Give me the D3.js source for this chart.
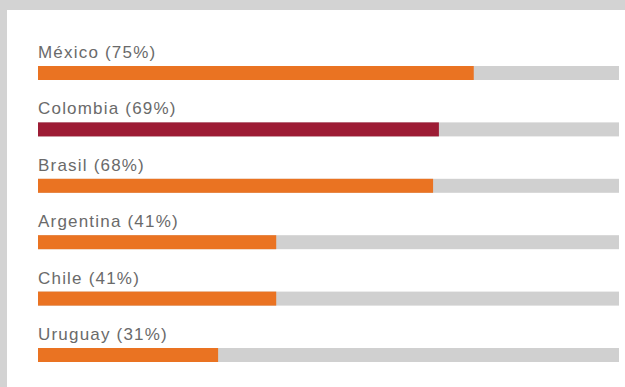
<!DOCTYPE html>
<html><head><meta charset="utf-8">
<script src="https://cdn.jsdelivr.net/npm/d3@7"></script>
<style>html,body{margin:0;padding:0;background:#d3d3d3;}svg{display:block;}</style>
</head><body>
<script>
const categories = ["México", "Colombia", "Brasil", "Argentina", "Chile", "Uruguay"];
const values = [75, 69, 68, 41, 41, 31];
const highlight = ["Colombia"];

const W = 625, H = 387;
const svg = d3.select("body").append("svg").attr("width", W).attr("height", H);
svg.append("rect").attr("width", W).attr("height", H).attr("fill", "#d3d3d3");
svg.append("rect").attr("x", 7).attr("y", 10).attr("width", W - 7).attr("height", H - 10).attr("fill", "#ffffff");

const x = d3.scaleLinear().domain([0, 100]).range([38, 619]);
const y = d3.scaleBand().domain(categories).range([66, 66 + 6 * 56.4]).paddingInner(0).paddingOuter(0);
const barH = 14;

const g = svg.selectAll("g.row").data(categories).join("g").attr("class", "row");
g.append("rect").attr("x", x(0)).attr("y", d => y(d)).attr("width", x(100) - x(0)).attr("height", barH).attr("fill", "#d0d0d0");
g.append("rect").attr("x", x(0)).attr("y", d => y(d))
  .attr("width", (d, i) => x(values[i]) - x(0)).attr("height", barH)
  .attr("fill", d => highlight.includes(d) ? "#9d1c35" : "#ea7322");
g.append("text").attr("x", x(0)).attr("y", d => y(d) - 8)
  .attr("font-family", "Liberation Sans, Arial, sans-serif").attr("font-size", 17)
  .attr("letter-spacing", 1.2).attr("fill", "#6a6a6a")
  .text((d, i) => `${d} (${values[i]}%)`);
</script>
</body></html>
